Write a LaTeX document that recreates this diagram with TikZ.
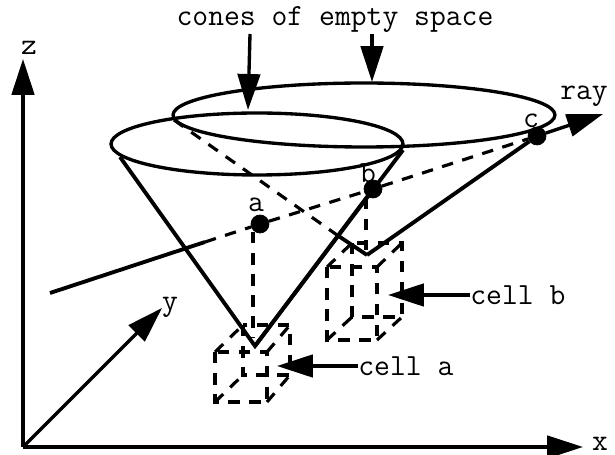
\documentclass[tikz,border=0pt]{standalone}
\usetikzlibrary{arrows.meta,shapes.geometric}
\begin{document}
\begin{tikzpicture}[
  x=0.02cm, y=-0.02cm,
  label/.style={inner sep=0pt, font=\ttfamily\fontsize{17.5}{17.5}\selectfont},
  point/.style={circle, fill=black, draw=black, inner sep=0pt, minimum size=0.36cm},
  rim/.style={ellipse, draw, line width=1.9pt, inner sep=0pt},
  solid line/.style={line width=2.2pt},
  hidden/.style={line width=1.8pt, dash pattern=on 6.5pt off 5.5pt},
  arrow/.style={-{Triangle[length=0.72cm, width=0.45cm]}, line width=1.9pt}
]
\useasboundingbox (0,0) rectangle (615,455);

\coordinate (origin) at (23,447);
\coordinate (zend) at (23,59);
\coordinate (xend) at (583,447);
\coordinate (yend) at (162,308);
\coordinate (apexa) at (255,346);
\coordinate (apexb) at (367,255);
\coordinate (dropa) at (253,232);
\coordinate (dropb) at (366,198);
\coordinate (dropaend) at (253,338);
\coordinate (dropbend) at (366,250);
\coordinate (rimaleft) at (120,157);
\coordinate (rimaright) at (403,150);
\coordinate (rimbleft) at (174,120);
\coordinate (hiddenend) at (337,235);
\coordinate (raystart) at (50,293);
\coordinate (raybreak) at (205,242);
\coordinate (rayend) at (603,114);
\coordinate (conetipa) at (248,110);
\coordinate (conetipb) at (372,82);
\coordinate (conetaila) at (250,34);
\coordinate (conetailb) at (372,34);
\coordinate (cellatip) at (277,366);
\coordinate (cellbtip) at (388,295);

% Axes
\draw[arrow] (origin) -- (zend);
\draw[arrow] (origin) -- (xend);
\draw[arrow] (origin) -- (yend);
\node[label] (zlabel) at (29,48) {z};
\node[label] (ylabel) at (170,307) {y};
\node[label] (xlabel) at (600,444) {x};

% Cones
\node[rim, minimum width=5.84cm, minimum height=1.24cm] (rima) at (257,144) {};
\node[rim, minimum width=7.64cm, minimum height=1.28cm] (rimb) at (364,115) {};
\draw[solid line] (rimaleft) -- (apexa) -- (rimaright);
\draw[hidden] (rimbleft) -- (hiddenend);
\draw[solid line] (hiddenend) -- (apexb);

% Ray
\node[point] (a) at (260,224) {};
\node[point] (b) at (373,189) {};
\node[point] (c) at (537,136) {};
\draw[solid line] (raystart) -- (raybreak);
\draw[hidden] (raybreak) -- (a);
\draw[hidden] (a) -- (b);
\draw[hidden] (b) -- (c);
\draw[arrow] (c) -- (rayend);
\draw[solid line] (apexa) -- (b);
\draw[solid line] (apexb) -- (c);
\node[label] (alabel) at (256,205) {a};
\node[label] (blabel) at (368,173) {b};
\node[label] (clabel) at (531,121) {c};
\node[label] (raylabel) at (584,96) {ray};

% Drop lines
\draw[hidden] (dropa) -- (dropaend);
\draw[hidden] (dropb) -- (dropbend);

% Cell a
\draw[hidden] (215,352) rectangle (267,402);
\draw[hidden] (243,325) rectangle (290,375);
\draw[hidden] (215,352) -- (243,325) (267,352) -- (290,325) (215,402) -- (243,375) (267,402) -- (290,375);

% Cell b
\draw[hidden] (327,267) rectangle (377,340);
\draw[hidden] (352,243) rectangle (402,317);
\draw[hidden] (327,267) -- (352,243) (377,267) -- (402,243) (327,340) -- (352,317) (377,340) -- (402,317);

% Labels with pointers
\node[label] (cones) at (335,20) {cones of empty space};
\draw[arrow] (conetaila) -- (conetipa);
\draw[arrow] (conetailb) -- (conetipb);
\node[label, anchor=west] (cella) at (358,366) {cell a};
\node[label, anchor=west] (cellb) at (470,295) {cell b};
\draw[arrow] (cella.west) -- (cellatip);
\draw[arrow] (cellb.west) -- (cellbtip);

\end{tikzpicture}
\end{document}
